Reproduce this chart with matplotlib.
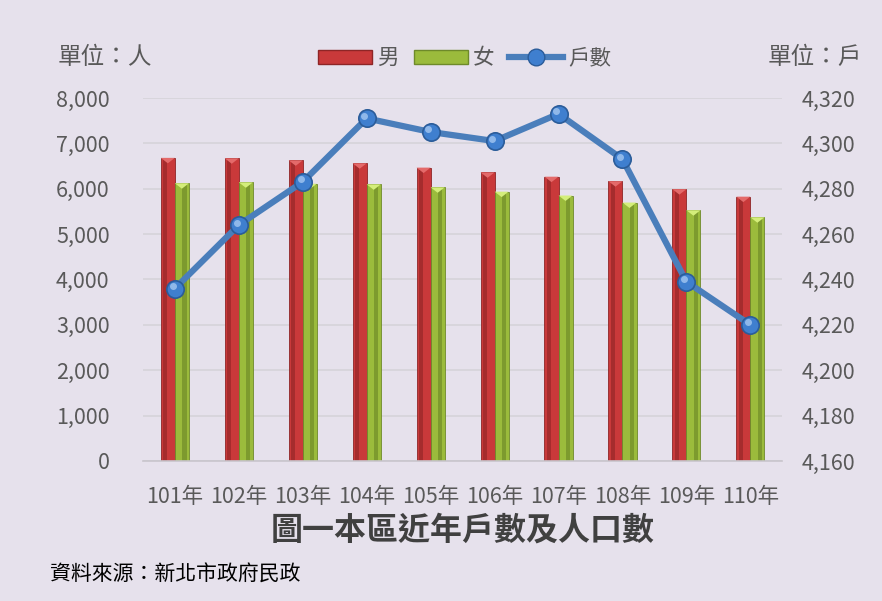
import numpy as np
import matplotlib
matplotlib.use("Agg")
import matplotlib.pyplot as plt
from matplotlib.ticker import FuncFormatter
from matplotlib.patches import Patch
from matplotlib.lines import Line2D

plt.rcParams['font.family'] = ['Noto Sans CJK TC', 'DejaVu Sans']

# Data
years = ['101年', '102年', '103年', '104年', '105年', '106年', '107年', '108年', '109年', '110年']
male = [6680, 6670, 6625, 6560, 6465, 6360, 6265, 6165, 5990, 5825]
female = [6120, 6140, 6110, 6095, 6030, 5935, 5850, 5695, 5525, 5370]
households = [4236, 4264, 4283, 4311, 4305, 4301, 4313, 4293, 4239, 4220]

bg = '#E6E1EC'
txt = '#595959'

fig = plt.figure(figsize=(8.82, 6.01), dpi=100, facecolor=bg)
ax = fig.add_axes([0.162, 0.233, 0.725, 0.604], facecolor=bg)

x = np.arange(len(years))
w = 0.22

# bars with a simple bevel look
ax.bar(x - w / 2, male, w, color='#C9393A', edgecolor='#8E2526', linewidth=0.6, zorder=2)
ax.bar(x + w / 2, female, w, color='#9BBB3C', edgecolor='#6E8A2A', linewidth=0.6, zorder=2)
ax.bar(x - w / 2 - w * 0.18, male, w * 0.3, color='#A52C2D', linewidth=0, zorder=2.1)
ax.bar(x + w / 2 + w * 0.18, female, w * 0.3, color='#7D9A2E', linewidth=0, zorder=2.1)
for xi, m, f in zip(x, male, female):
    ax.fill([xi - w, xi, xi - w / 2], [m, m, m - 120], color='#E46A6A', zorder=2.2, lw=0)
    ax.fill([xi, xi + w, xi + w / 2], [f, f, f - 120], color='#D4EE7A', zorder=2.2, lw=0)

ax.set_xlim(-0.5, len(years) - 0.5)
ax.set_ylim(0, 8000)
ax.set_yticks(np.arange(0, 8001, 1000))
ax.yaxis.set_major_formatter(FuncFormatter(lambda v, p: f'{int(v):,}'))
ax.set_xticks(x)
ax.set_xticklabels(years)
ax.grid(axis='y', color='#D6D3D9', linewidth=1.2, zorder=0)
ax.set_axisbelow(True)
for s in ['top', 'right', 'left']:
    ax.spines[s].set_visible(False)
ax.spines['bottom'].set_color('#C8C5CC')
ax.spines['bottom'].set_linewidth(1.2)
ax.tick_params(axis='y', length=0, labelsize=15.5, colors=txt, pad=24)
ax.tick_params(axis='x', length=0, labelsize=15.5, colors=txt, pad=18)

ax2 = ax.twinx()
ax2.set_ylim(4160, 4320)
ax2.set_yticks(np.arange(4160, 4321, 20))
ax2.yaxis.set_major_formatter(FuncFormatter(lambda v, p: f'{int(v):,}'))
for s in ax2.spines.values():
    s.set_visible(False)
ax2.tick_params(axis='y', length=0, labelsize=15.5, colors=txt, pad=14)
ax2.plot(x, households, color='#4A7EBB', linewidth=4.5, marker='o', markersize=12.5,
         markerfacecolor='#3F7FCF', markeredgecolor='#2B5C99', markeredgewidth=1.2, zorder=3)
ax2.plot(x - 0.035, [h + 1.1 for h in households], 'o', markersize=4, color='#8FB8EA', zorder=4)

fig.text(0.065, 0.905, '單位：人', fontsize=17, color=txt, ha='left', va='center')
fig.text(0.977, 0.905, '單位：戶', fontsize=17, color=txt, ha='right', va='center')

handles = [Patch(facecolor='#C9393A', edgecolor='#8E2526'),
           Patch(facecolor='#9BBB3C', edgecolor='#6E8A2A'),
           Line2D([0], [0], color='#4A7EBB', lw=4.5, marker='o', markersize=12,
                  markerfacecolor='#3F7FCF', markeredgecolor='#2B5C99')]
leg = fig.legend(handles, ['男', '女', '戶數'], loc='center', bbox_to_anchor=(0.527, 0.903), ncol=3,
                 frameon=False, fontsize=15.5, handlelength=2.5, handleheight=0.6,
                 columnspacing=0.7, handletextpad=0.25)
for t in leg.get_texts():
    t.set_color(txt)

fig.text(0.525, 0.118, '圖一本區近年戶數及人口數', fontsize=23, fontweight='bold', color='#404040',
         ha='center', va='center')
fig.text(0.057, 0.043, '資料來源：新北市政府民政', fontsize=15, color='black', ha='left', va='center')

fig.savefig('out.png', dpi=100, facecolor=bg)
